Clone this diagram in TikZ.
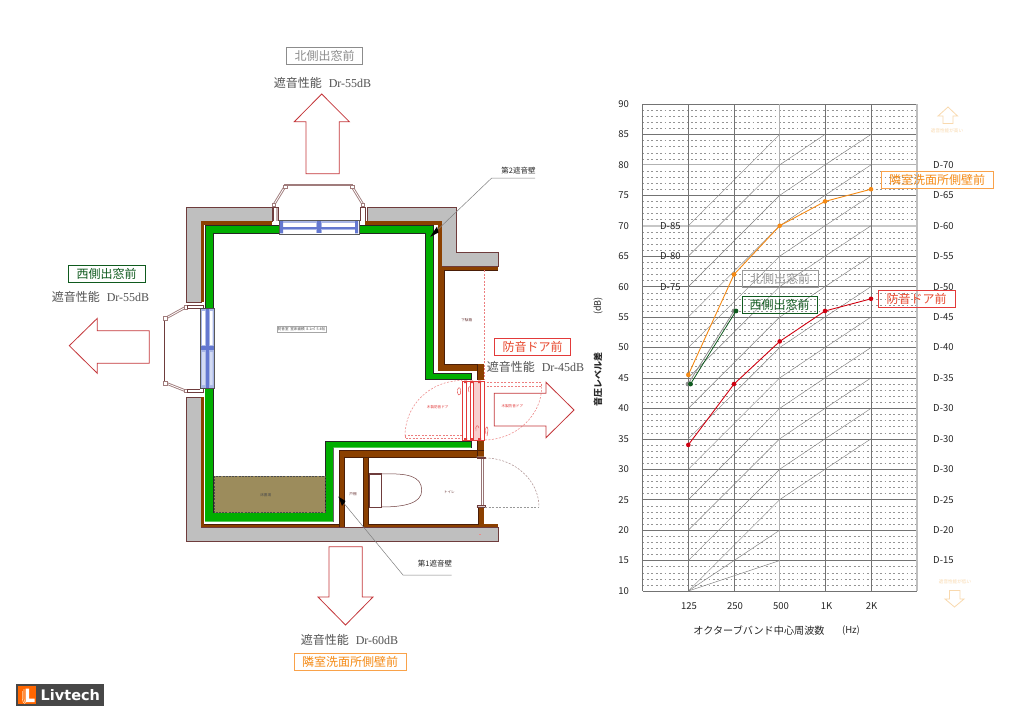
\documentclass[tikz,border=0pt]{standalone}
\usepackage{fontspec}
\setmainfont{Noto Sans CJK JP}
\newfontfamily\ser{Liberation Serif}
\newfontfamily\lgf{DejaVu Sans}
\definecolor{brownw}{HTML}{8B4000}
\definecolor{brownedge}{HTML}{4A1E08}
\definecolor{greyw}{HTML}{BFBFBF}
\definecolor{wedge}{HTML}{6E3C3C}
\definecolor{greenw}{HTML}{00AE00}
\definecolor{glass}{HTML}{6478D0}
\definecolor{glassl}{HTML}{A8B6E6}
\definecolor{arrred}{HTML}{C4363A}
\definecolor{doorred}{HTML}{E23A3A}
\definecolor{oran}{HTML}{F58A14}
\definecolor{lbor}{HTML}{F9A24A}
\definecolor{chred}{HTML}{D00010}
\definecolor{chgreen}{HTML}{0F5A1E}
\definecolor{chgrey}{HTML}{8C8C8C}
\definecolor{paleor}{HTML}{F9D9AE}
\definecolor{storec}{HTML}{9C8C5C}
\definecolor{baypink}{HTML}{A07C7C}
\newcommand{\fsz}[1]{\fontsize{#1}{#1}\selectfont}
\tikzset{
  x=1pt,y=-1pt,
  declare function={yy(\d)=591-(\d-10)*6.0875;},
  grey wall/.style={fill=greyw,draw=wedge,line width=.6},
  big arrow/.style={draw=arrred,line width=.8,fill=none,line join=miter},
  bay/.style={draw=baypink,double=white,double distance=.8pt,line width=.9},
  bay bar/.style={draw=wedge,double=white,double distance=.5pt,line width=.6},
  bay hinge/.style={draw=baypink,fill=white,line width=.6},
  winframe/.style={draw=black!65,line width=.7,fill=white},
  major/.style={draw=black!55,line width=.6},
  dots/.style={draw=black!42,line width=.4,dash pattern=on 1.8pt off 2.6pt},
  curve/.style={draw=black!50,line width=.45},
  tinytxt/.style={inner sep=0,font=\fsz{3.6},text=#1},
  boxlab/.style={draw=#1,line width=.8,inner sep=0,fill=none,font=\fsz{12},text=#1},
  perf/.style={inner sep=0,text=black!68,font=\fsz{12}},
  chartnum/.style={inner sep=0,text=black!85,font=\fsz{9.5}},
  leader/.style={draw=black!50,line width=.5},
  red door/.style={draw=doorred,line width=.55},
  pink dash/.style={draw=doorred!65,line width=.5,dash pattern=on 2pt off 1.5pt},
}
\newcommand{\perftext}[1]{遮音性能\hspace{7pt}{\ser Dr-#1dB}}
\begin{document}
\begin{tikzpicture}
\useasboundingbox (0,0) rectangle (1024,723);
\fill[white] (0,0) rectangle (1024,723);

% ---------- floor plan: walls
\draw[grey wall] (186,207)--(272,207)--(272,221)--(201,221)--(201,302)--(186,302)--cycle;
\draw[grey wall] (186,397)--(201,397)--(201,527.7)--(498,527.7)--(498,541.7)--(186,541.7)--cycle;
\draw[grey wall] (367,207)--(456.7,207)--(456.7,252.3)--(498,252.3)--(498,266.7)--(441.7,266.7)--(441.7,221)--(367,221)--cycle;
\fill[doorred!60] (479,533.6) rectangle (481,534.4);

\fill[brownw] (201,221) rectangle (272,224.5);
\fill[brownw] (365,221) rectangle (441.7,224.5);
\fill[brownw] (201,221) rectangle (204,302);
\fill[brownw] (201,397) rectangle (204,527.3);
\fill[brownw] (201,524.3) rectangle (344.3,527.3);
\fill[brownw] (437.7,221) rectangle (441.7,266.7);
\fill[brownw] (437.7,266.7) rectangle (444,370.7);
\fill[brownw] (444,266.7) rectangle (498,270);
\fill[brownw] (437.7,364) rectangle (484,370.7);
\fill[brownw] (477.3,364) rectangle (484,380);
\fill[brownw] (339.3,450) rectangle (484,456.7);
\fill[brownw] (477.3,441) rectangle (484,457);
\fill[brownw] (339.3,450) rectangle (344.3,527.3);
\fill[brownw] (362.7,456) rectangle (368.3,527.3);
\fill[brownw] (368.3,524.3) rectangle (498,527.3);
\fill[brownw] (478.3,507) rectangle (484,525);
% dark edges of the brown layer
\draw[brownedge,line width=.4] (444,270)--(498,270) (444,270)--(444,364)--(477.3,364)--(477.3,380)
  (344.3,456.7)--(344.3,527.3) (362.7,456.7)--(362.7,527.3) (368.3,456.7)--(368.3,524.3)--(478.3,524.3)--(478.3,507)
  (344.3,456.7)--(477.3,456.7)--(477.3,441) (339.3,527.3)--(339.3,450)--(484,450) (204,524.3)--(339.3,524.3);

% green layer
\fill[greenw] (205,225)--(433.3,225)--(433.3,373.3)--(471,373.3)--(471,379.3)--(425.7,379.3)--(425.7,233.3)--(213.3,233.3)--(213.3,512.7)--(325,512.7)--(325,441.7)--(471,441.7)--(471,447.7)--(333.3,447.7)--(333.3,521.7)--(205,521.7)--cycle;
\draw[black!85,line width=.6] (205,310)--(205,225)--(433.3,225)--(433.3,373.3)--(471,373.3)--(471,379.3)--(425.7,379.3)--(425.7,233.3)--(213.3,233.3)--(213.3,512.7)--(325,512.7)--(325,441.7)--(471,441.7)--(471,447.7);
\draw[black!60,line width=.5] (333.3,447.7)--(333.3,521.7);

% storage
\draw[fill=storec,draw=black!70,line width=.5,dash pattern=on 2pt off 1.2pt] (214,476) rectangle (325,512.7);
\node[tinytxt=black!70] (storelab) at (265.7,495) {床置場};

% room labels
\node[draw=black!35,line width=.3,fill=white,inner sep=1.2pt,font=\fsz{3.6},text=black!70] (roomlab) at (301.5,329) {防音室\ \ 室床面積\ \ 8.1㎡\ \ 5.4帖};
\node[tinytxt=wedge] (shoelab) at (466.7,320.3) {下駄箱};
\node[tinytxt=wedge] (closetlab) at (353,494) {戸棚};
\node[tinytxt=wedge] (wclab) at (449.3,492.3) {トイレ};
\node[tinytxt=doorred] (doorlab1) at (437.7,406.7) {木製防音ドア};
\node[tinytxt=doorred] (doorlab2) at (512.3,406) {木製防音ドア};

% ---------- north window and bay
\draw[bay] (274,204.5)--(285,186.5);
\draw[bay] (352,186.5)--(363,204.5);
\draw[draw=baypink,line width=1.6] (284,185)--(353,185);
\draw[bay hinge] (283,185) rectangle (287,188) (350,185) rectangle (354,188) (272.5,203) rectangle (275.5,206.5) (361.5,203) rectangle (364.5,206.5);
\draw[wedge,line width=.6] (273.5,207)--(273.5,221) (278.5,207)--(278.5,221) (360,207)--(360,221) (365,207)--(365,221);
\draw[wedge,line width=.6] (273.5,207)--(278.5,207) (360,207)--(365,207);
\fill[baypink!60] (275.5,207.5) rectangle (278,221);
\draw[winframe] (279,220) rectangle (359,234);
\fill[glassl] (280,221) rectangle (358,233.3);
\fill[white] (282,223.2) rectangle (316,226.8) (322,223.2) rectangle (356,226.8) (282,230) rectangle (316,233) (322,230) rectangle (356,233);
\fill[glass] (280,227) rectangle (358,229.4);
\fill[glass] (317,221) rectangle (321,233.3);
\fill[glass] (280,221) rectangle (283,233.3) (355,221) rectangle (358,233.3);

% west window and bay
\draw[bay] (186,307)--(167,317.5);
\draw[bay] (167,383.5)--(186,391);
\draw[bay bar] (165,318)--(165,383);
\draw[bay hinge] (163.5,316.5) rectangle (167,320) (163.5,381.5) rectangle (167,385) (184,305.5) rectangle (187.5,309) (184,389) rectangle (187.5,392.5);
\draw[wedge,line width=.6] (187,305)--(203,305)--(203,308) (187,392)--(203,392)--(203,389) (187,305)--(187,308)--(200,308) (187,392)--(187,389)--(200,389);
\draw[winframe] (200,308.3) rectangle (214.3,388.3);
\fill[glassl] (201,309) rectangle (213.6,387.6);
\fill[white] (202,311) rectangle (205,345) (210,311) rectangle (212.6,345);
\fill[white!50!glassl] (202,352) rectangle (205,385) (210,352) rectangle (212.6,385);
\fill[glass] (206,309) rectangle (208.6,387.6);
\fill[glass] (201,346) rectangle (213.6,350);
\draw[black!70,line width=.7] (200,308.3)--(214.3,308.3) (200,388.3)--(214.3,388.3);

% ---------- sound-proof door
\draw[pink dash] (484,270)--(484,380);
\draw[pink dash] (405,435.5) rectangle (462,438.5);
\draw[pink dash] (405,436) .. controls (405,405) and (430,380.5) .. (462,380.5);
\draw[pink dash] (484,382.5) rectangle (541.7,386.7);
\draw[pink dash] (541.7,386.7) .. controls (541.7,415) and (516,440) .. (484,440);
\fill[doorred!25] (473.5,381) rectangle (480,440);
\draw[red door] (462.5,381) rectangle (484,440);
\draw[red door,line width=.4] (466,381)--(466,440) (470,381)--(470,440) (473.5,381)--(473.5,440) (480,381)--(480,440);
\fill[doorred] (464,380.5) rectangle (467,383) (470,380.5) rectangle (473,383) (478,380.5) rectangle (481,383) (464,438) rectangle (467,440.5) (470,438) rectangle (473,440.5) (478,438) rectangle (481,440.5);
\draw[red door,line width=.4] (458.5,395) .. controls (456,392) and (458,386) .. (460,388) .. controls (461,392) and (461,395) .. (458.5,395);
\draw[red door,line width=.4] (469,392) .. controls (467,387) and (470,385) .. (471,388);
\draw[red door,line width=.4] (476,431) .. controls (475,425) and (478,424) .. (479,428);
\draw[red door,line width=.4] (486,434) .. controls (484,427) and (488,424) .. (488,430) -- (487,436);

% toilet door
\draw[draw=wedge!70,line width=.5] (481,458)--(481,506) (483,458)--(483,506);
\draw[draw=wedge,fill=wedge!25,line width=.4] (476.8,456.7) rectangle (484.7,458.4) (476.8,505.6) rectangle (484.7,507.6);
\draw[draw=wedge!60,line width=.5,dash pattern=on 2pt off 1.5pt] (485,458) .. controls (514,458) and (539,480) .. (539,507);
\draw[draw=black!40,line width=.5,dash pattern=on 2pt off 1.5pt] (485,507)--(539,507);

% toilet
\draw[draw=wedge,line width=.5,fill=white] (369,474) rectangle (381,507);
\draw[draw=wedge,line width=.5] (381,474) .. controls (408,473) and (421.7,476) .. (421.7,490.5) .. controls (421.7,503) and (405,507) .. (381,507);
\draw[draw=wedge,line width=.4] (369,473.3)--(382,473.3) (369,507.3)--(382,507.3);

% ---------- direction arrows
\draw[big arrow] (321.7,94)--(349.3,121.7)--(339.3,121.7)--(339.3,173.7)--(306,173.7)--(306,121.7)--(294.3,121.7)--cycle;
\draw[big arrow] (69.3,345.7)--(97.3,318.3)--(97.3,330.7)--(149.3,330.7)--(149.3,363.3)--(97.3,363.3)--(97.3,373.3)--cycle;
\draw[big arrow] (574,410)--(546,382.3)--(546,393.3)--(494.3,393.3)--(494.3,426)--(546,426)--(546,437.7)--cycle;
\draw[big arrow] (345.5,625)--(373,597)--(362.3,597)--(362.3,546.7)--(329,546.7)--(329,597)--(318,597)--cycle;

% ---------- labels around plan
\node[boxlab=black!45,minimum width=75.6pt,minimum height=17pt] (lnorth) at (324.5,55.8) {北側出窓前};
\node[perf] (pnorth) at (322.5,83) {\perftext{55}};
\node[boxlab=chgreen,minimum width=76.7pt,minimum height=16.6pt] (lwest) at (106.7,274) {西側出窓前};
\node[perf] (pwest) at (100.5,297) {\perftext{55}};
\node[boxlab=doorred,minimum width=76.4pt,minimum height=17pt,text=doorred!80!orange] (ldoor) at (532.5,346.8) {防音ドア前};
\node[perf] (pdoor) at (535.5,367) {\perftext{45}};
\node[perf] (psouth) at (349.5,640) {\perftext{60}};
\node[boxlab=lbor,minimum width=112pt,minimum height=17pt,text=oran] (lsouth) at (350,661.5) {隣室洗面所側壁前};

% callouts
\node[inner sep=0,font=\fsz{7.5},text=black!85] (wall2) at (518.5,170.5) {第2遮音壁};
\coordinate (w2a) at (535,178); \coordinate (w2b) at (491.7,178); \coordinate (w2t) at (430,237);
\draw[leader] (w2a)--(w2b)--(w2t);
\fill[black] (w2t)--(437,226.5)--(438.5,232.5)--cycle;
\node[inner sep=0,font=\fsz{7.5},text=black!85] (wall1) at (435,564) {第1遮音壁};
\coordinate (w1a) at (451.7,575); \coordinate (w1b) at (403,575); \coordinate (w1t) at (338.5,496.7);
\draw[leader] (w1a)--(w1b)--(w1t);
\fill[black] (w1t)--(345.5,501)--(342,506)--cycle;

% ---------- chart grid
\foreach \d in {11,12,13,14,16,17,18,19,21,22,23,24,26,27,28,29,31,32,33,34,36,37,38,39,41,42,43,44,46,47,48,49,51,52,53,54,56,57,58,59,61,62,63,64,66,67,68,69,71,72,73,74,76,77,78,79,81,82,83,84,86,87,88,89}
  \draw[dots] (642.5,{yy(\d)})--(917,{yy(\d)});
\draw[draw=black!22,line width=1.6] (642.5,{yy(70)})--(917,{yy(70)});
\draw[draw=black!30,line width=1.1] (642.5,{yy(80)})--(917,{yy(80)});
\foreach \d in {15,20,...,65,75,85,90,10}
  \draw[major] (642.5,{yy(\d)})--(917,{yy(\d)});
\draw[major] (642.5,{yy(90)})--(642.5,{yy(10)});
\foreach \x in {688.3,734,825,871}
  \draw[major] (\x,{yy(90)})--(\x,{yy(10)});
\draw[draw=black!30,line width=1.3] (779.7,{yy(90)})--(779.7,{yy(10)});
\draw[draw=black!25,line width=1.5] (917,{yy(90)})--(917,{yy(10)});
% D curves
\foreach \D in {15,20,25}
  \draw[curve] (688.3,{yy(10)})--(779.7,{yy(\D)});
\foreach \D in {30,35,...,85}
  \draw[curve] (688.3,{yy(\D-15)})--(779.7,{yy(\D)});
\foreach \D in {25,30,...,75}
  \draw[curve] (779.7,{yy(\D)})--(825,{yy(\D+5)})--(871,{yy(\D+10)});
\draw[curve] (779.7,{yy(80)})--(825,{yy(85)});

% chart numbers
\foreach \d in {10,15,...,90}
  \node[chartnum,anchor=east] (yl\d) at (629,{yy(\d)}) {\d};
\foreach \t/\x in {125/689,250/735,500/781,1K/826.5,2K/871.5}
  \node[chartnum] (xl\t) at (\x,606) {\t};
\foreach \t/\v in {70/80,65/75,60/70,55/65,50/60,45/55,40/50,35/45,30/40}
  \node[chartnum,anchor=west] (dr\t) at (933,{yy(\v)}) {D-\t};
\node[chartnum,anchor=west] (dr30b) at (933,{yy(35)}) {D-30};
\node[chartnum,anchor=west] (dr30c) at (933,{yy(30)}) {D-30};
\foreach \t/\v in {25/25,20/20,15/15}
  \node[chartnum,anchor=west] (dr\t) at (933,{yy(\v)}) {D-\t};
\node[chartnum,anchor=west] (dl85) at (660,{yy(70)}) {D-85};
\node[chartnum,anchor=west] (dl80) at (660,{yy(65)}) {D-80};
\node[chartnum,anchor=west] (dl75) at (660,{yy(60)}) {D-75};

\node[inner sep=0,font=\fsz{10.15},text=black!85] (xtitle) at (759,630.5) {オクターブバンド中心周波数};
\node[inner sep=0,font=\fsz{9.5},text=black!85] (xunit) at (851,630.5) {(Hz)};
\node[inner sep=0,font=\fsz{9}\bfseries,text=black!85,rotate=90] (ytitle) at (598,379) {音圧レベル差};
\node[inner sep=0,font=\fsz{9},text=black!85,rotate=90] (yunit) at (598,306) {(dB)};

% data
\draw[chgrey,line width=.8] (688,{yy(44)})--(734,{yy(56)});
\fill[chgrey] (688,{yy(44)}) circle (2.4) (734,{yy(56)}) circle (2.4);
\draw[chgreen,line width=.8] (690.5,{yy(44)})--(736,{yy(56)});
\fill[chgreen] (690.5,{yy(44)}) circle (2.4) (736,{yy(56)}) circle (2.4);
\draw[oran,line width=.9] (688.3,{yy(45.5)})--(734,{yy(62)})--(779.7,{yy(70)})--(825,{yy(74)})--(871,{yy(76)});
\foreach \x/\v in {688.3/45.5,734/62,779.7/70,825/74,871/76}
  \fill[oran] (\x,{yy(\v)}) circle (2.3);
\draw[chred,line width=.9] (688.3,{yy(34)})--(734,{yy(44)})--(779.7,{yy(51)})--(825,{yy(56)})--(871,{yy(58)});
\foreach \x/\v in {688.3/34,734/44,779.7/51,825/56,871/58}
  \fill[chred] (\x,{yy(\v)}) circle (2.3);

% chart labels
\node[boxlab=lbor,minimum width=112pt,minimum height=17pt,text=oran] (clsouth) at (937,179.5) {隣室洗面所側壁前};
\node[boxlab=black!40,minimum width=76pt,minimum height=16.5pt] (clnorth) at (780,279) {北側出窓前};
\node[boxlab=chgreen,minimum width=75pt,minimum height=16.5pt] (clwest) at (779.5,305) {西側出窓前};
\node[boxlab=doorred,minimum width=77pt,minimum height=16.5pt,text=doorred!80!orange] (cldoor) at (916.5,299) {防音ドア前};

% pale arrows
\draw[paleor,line width=.8] (948,107)--(957.5,116)--(953,116)--(953,123.5)--(943,123.5)--(943,116)--(938,116)--cycle;
\node[tinytxt=paleor,font=\fsz{4.6}] (hi) at (947,130.7) {遮音性能が高い};
\node[tinytxt=paleor,font=\fsz{4.6}] (lo) at (955,582) {遮音性能が低い};
\draw[paleor,line width=.8] (954.5,607)--(964,599)--(960,599)--(960,590.5)--(949.5,590.5)--(949.5,599)--(945,599)--cycle;

% ---------- logo
\fill[black!72] (16,684) rectangle (104,705.7);
\fill[orange!80!red] (18,685.7) rectangle (36,704.3);
\fill[white] (25.5,688.5)--(29,688.5)--(29,698.5)--(34.5,698.5)--(34.5,702)--(25.5,702)--cycle;
\draw[white!70!orange,line width=.6] (24,689)--(24,699) .. controls (24,701) and (25,702) .. (26,703);
\draw[white!70!orange,line width=.6] (22.3,691)--(22.3,699) .. controls (22.3,702) and (24,703) .. (25,703.6);
\node[inner sep=0,anchor=west,font=\lgf\bfseries\fsz{14.5},text=white] (logo) at (40.5,695.5) {Livtech};
\end{tikzpicture}
\end{document}
